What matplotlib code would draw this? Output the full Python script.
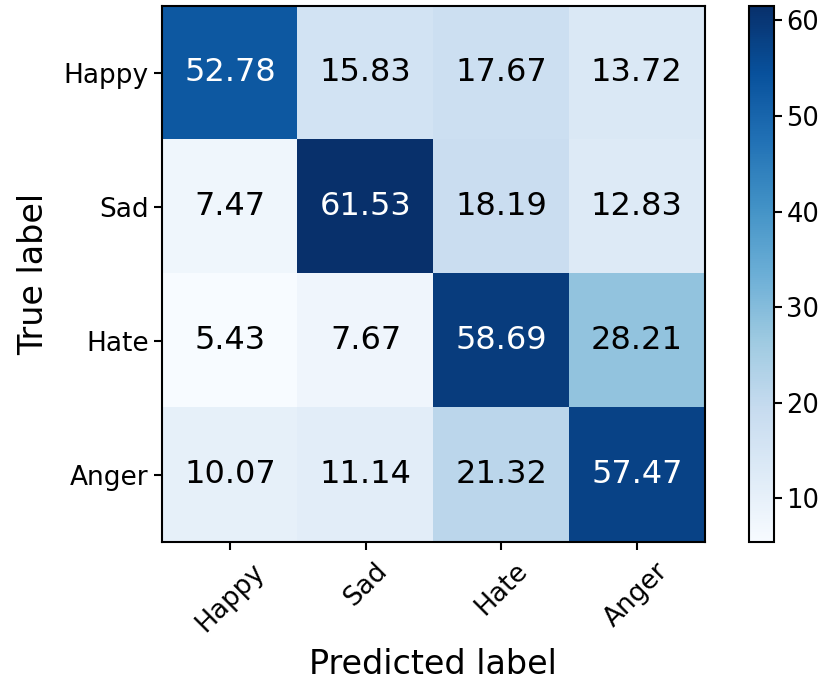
import numpy as np
import matplotlib
matplotlib.use("Agg")
import matplotlib.pyplot as plt

classes = ['Happy', 'Sad', 'Hate', 'Anger']
cm = np.array([
    [52.78, 15.83, 17.67, 13.72],
    [7.47, 61.53, 18.19, 12.83],
    [5.43, 7.67, 58.69, 28.21],
    [10.07, 11.14, 21.32, 57.47],
])

fig = plt.figure(figsize=(8.31, 6.84), dpi=100)
ax = fig.add_axes([0.195, 0.2076, 0.653, 0.784])
cax = fig.add_axes([0.901, 0.2076, 0.031, 0.784])

im = ax.imshow(cm, interpolation='nearest', cmap=plt.cm.Blues, aspect='auto')
cb = fig.colorbar(im, cax=cax)
cb.ax.tick_params(labelsize=18.5, length=5.5, width=1.5, pad=3)
cb.outline.set_linewidth(1.5)

ticks = np.arange(len(classes))
ax.set_xticks(ticks)
ax.set_xticklabels(classes, rotation=45, fontsize=19)
ax.set_yticks(ticks)
ax.set_yticklabels(classes, fontsize=19)
ax.tick_params(length=5.5, width=1.5, pad=4)
ax.tick_params(axis='x', pad=6)
for s in ax.spines.values():
    s.set_linewidth(1.5)

thresh = cm.max() / 2.0
for i in range(cm.shape[0]):
    for j in range(cm.shape[1]):
        ax.text(j, i, format(cm[i, j], '.2f'),
                ha='center', va='center', fontsize=23,
                color='white' if cm[i, j] > thresh else 'black')

ax.set_ylabel('True label', fontsize=24, labelpad=10)
ax.set_xlabel('Predicted label', fontsize=24, labelpad=8)

plt.savefig('out.png', dpi=100)
plt.close()
